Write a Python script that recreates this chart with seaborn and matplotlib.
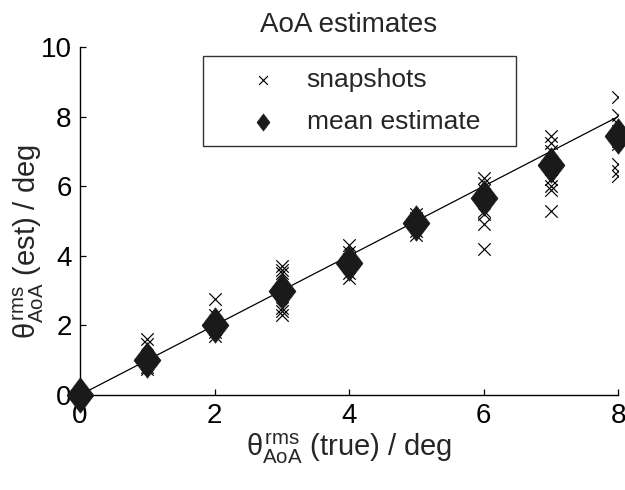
import numpy as np
import pandas as pd
import seaborn as sns
import matplotlib
matplotlib.use("Agg")
import matplotlib.pyplot as plt

sns.set_theme(style="ticks")
plt.rcParams["font.family"] = ["Liberation Sans", "DejaVu Sans"]
plt.rcParams["mathtext.fontset"] = "custom"
plt.rcParams["mathtext.rm"] = "Liberation Sans"
plt.rcParams["mathtext.it"] = "Liberation Sans"

# true rms AoA (deg) and per-snapshot estimates
true_deg = [0, 1, 2, 3, 4, 5, 6, 7, 8]
snap_0 = [0.0, 0.0, 0.0, 0.0, 0.0]
snap_1 = [1.6, 1.45, 1.1, 1.0, 0.9, 0.8, 0.75]
snap_2 = [2.75, 2.3, 2.1, 1.9, 1.8, 1.7]
snap_3 = [3.7, 3.6, 3.5, 3.0, 2.9, 2.5, 2.4, 2.3]
snap_4 = [4.3, 4.1, 3.9, 3.7, 3.5, 3.35]
snap_5 = [5.2, 5.1, 4.9, 4.7, 4.6]
snap_6 = [6.25, 6.1, 5.9, 5.6, 5.3, 5.2, 4.9, 4.2]
snap_7 = [7.45, 7.25, 7.0, 6.5, 6.2, 6.0, 5.9, 5.3]
snap_8 = [8.55, 8.05, 7.8, 7.6, 7.3, 7.2, 6.65, 6.45, 6.3]
mean_est = [0.0, 1.0, 2.0, 3.0, 3.8, 4.95, 5.65, 6.62, 7.45]

snapshots = [snap_0, snap_1, snap_2, snap_3, snap_4, snap_5, snap_6, snap_7, snap_8]
snap_df = pd.DataFrame(
    [(t, v) for t, vals in zip(true_deg, snapshots) for v in vals],
    columns=["true", "est"],
)
mean_df = pd.DataFrame({"true": true_deg, "est": mean_est})
ref_df = pd.DataFrame({"true": [true_deg[0], true_deg[-1]],
                       "est": [true_deg[0], true_deg[-1]]})

fig = plt.figure(figsize=(6.25, 4.9), dpi=100)
ax = fig.add_axes([0.128, 0.194, 0.861, 0.710])

sns.lineplot(data=ref_df, x="true", y="est", color="black", linewidth=0.9, ax=ax)
sns.scatterplot(data=snap_df, x="true", y="est", marker="x", color="black",
                s=80, linewidth=0.85, ax=ax, label="snapshots", zorder=3)
diamond = [(-0.38, 0), (0, 0.5), (0.38, 0), (0, -0.5), (-0.38, 0)]
sns.scatterplot(data=mean_df, x="true", y="est", marker=diamond, color="#1a1a1a",
                s=650, edgecolor="#1a1a1a", linewidth=0.5, ax=ax,
                label="mean estimate", zorder=4, clip_on=False)

ax.set_xlim(0, 8)
ax.set_ylim(0, 10)
ax.set_xticks([0, 2, 4, 6, 8])
ax.set_yticks([0, 2, 4, 6, 8, 10])
ax.tick_params(direction="in", length=4, width=0.9, labelsize=20, pad=6,
               colors="black")
sns.despine(ax=ax)
for sp in ["left", "bottom"]:
    ax.spines[sp].set_linewidth(1.0)
    ax.spines[sp].set_color("black")

ax.set_xlabel(r"$\theta^{\rm rms}_{\rm AoA}$ (true) / deg", fontsize=21, labelpad=2)
ax.set_ylabel(r"$\theta^{\rm rms}_{\rm AoA}$ (est) / deg", fontsize=21)
ax.yaxis.set_label_coords(-0.064, 0.44)
ax.set_title("AoA estimates", fontsize=20, pad=11, color="#262626")

# legend box stretched to the frame size seen in the reference
leg = ax.legend(loc="upper left", bbox_to_anchor=(0.228, 0.721, 0.582, 0.253),
                mode="expand", fontsize=19, frameon=True, fancybox=False,
                borderpad=0.45, handletextpad=-0.15, labelspacing=0.68,
                handlelength=3.64, borderaxespad=0)
leg.get_frame().set_edgecolor("black")
leg.get_frame().set_linewidth(1.0)
handles = leg.legend_handles
handles[0].set_sizes([40])
handles[1].set_sizes([150])

fig.savefig("out.png", dpi=100)
